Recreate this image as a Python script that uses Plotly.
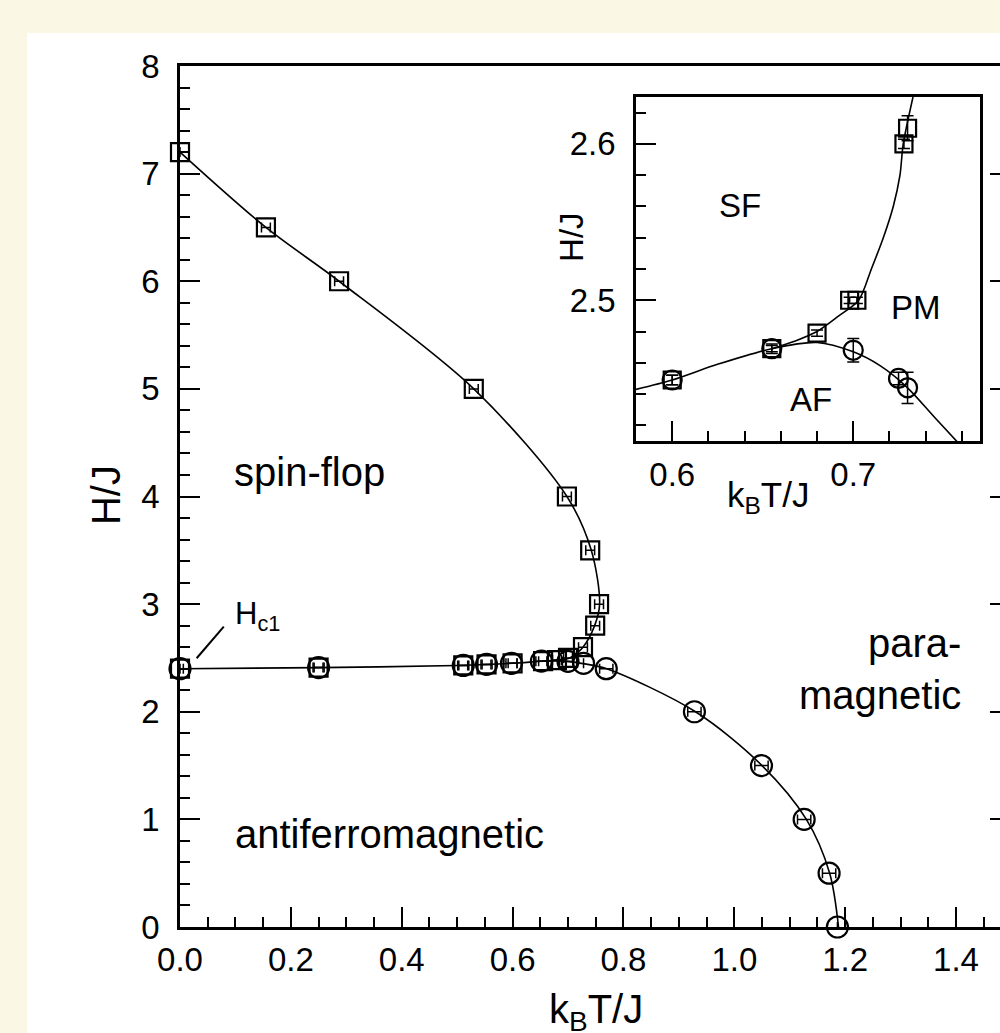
import plotly.graph_objects as go

# ---------------- main panel: measured transition points ----------------
sf_T = [0.0, 0.155, 0.287, 0.530, 0.698, 0.740, 0.756, 0.749, 0.727, 0.700, 0.680, 0.655, 0.600, 0.553, 0.511, 0.250, 0.0]
sf_H = [7.2, 6.5, 6.0, 5.0, 4.0, 3.5, 3.0, 2.8, 2.6, 2.5, 2.48, 2.47, 2.45, 2.44, 2.43, 2.41, 2.40]
sf_dT = [0.0, 0.008, 0.008, 0.008, 0.008, 0.008, 0.008, 0.008, 0.008, 0.008, 0.008, 0.008, 0.008, 0.008, 0.008, 0.008, 0.0]

af_T = [0.0, 0.250, 0.511, 0.553, 0.598, 0.652, 0.700, 0.728, 0.769, 0.928, 1.049, 1.126, 1.171, 1.186]
af_H = [2.40, 2.41, 2.43, 2.44, 2.45, 2.47, 2.468, 2.45, 2.40, 2.0, 1.5, 1.0, 0.5, 0.0]
af_dT = [0.006, 0.010, 0.010, 0.010, 0.010, 0.010, 0.010, 0.0, 0.012, 0.012, 0.012, 0.012, 0.012, 0.0]

# boundary curves
sf_curve_T = [0.0, 0.155, 0.287, 0.530, 0.698, 0.742, 0.757, 0.748, 0.727, 0.703, 0.680, 0.655]
sf_curve_H = [7.2, 6.5, 6.0, 5.0, 4.0, 3.5, 3.0, 2.8, 2.6, 2.5, 2.48, 2.47]
af_curve_T = [0.0, 0.25, 0.5, 0.6, 0.655, 0.68, 0.70, 0.73, 0.77, 0.93, 1.05, 1.13, 1.172, 1.188]
af_curve_H = [2.40, 2.41, 2.43, 2.45, 2.47, 2.473, 2.468, 2.445, 2.40, 2.0, 1.5, 1.0, 0.5, 0.0]

# ---------------- inset data ----------------
in_sq_T = [0.600, 0.655, 0.680, 0.698, 0.702, 0.728, 0.730]
in_sq_H = [2.449, 2.469, 2.479, 2.500, 2.500, 2.600, 2.610]
in_sq_dH = [0.003, 0.002, 0.002, 0.002, 0.002, 0.003, 0.008]
in_ci_T = [0.600, 0.655, 0.700, 0.725, 0.730]
in_ci_H = [2.449, 2.469, 2.468, 2.450, 2.444]
in_ci_dH = [0.003, 0.003, 0.0075, 0.004, 0.010]

in_sf_curve_T = [0.655, 0.668, 0.680, 0.692, 0.703, 0.710, 0.7166, 0.7221, 0.7258, 0.7276, 0.733]
in_sf_curve_H = [2.469, 2.474, 2.480, 2.490, 2.500, 2.520, 2.540, 2.560, 2.580, 2.600, 2.630]
in_af_curve_T = [0.58, 0.60, 0.625, 0.655, 0.68, 0.70, 0.715, 0.73, 0.745, 0.765]
in_af_curve_H = [2.443, 2.449, 2.459, 2.469, 2.473, 2.467, 2.458, 2.444, 2.425, 2.400]

FONT = "Liberation Sans, Arial, Helvetica, sans-serif"
BLACK = "black"
CREAM = "#FAF8E5"

fig = go.Figure()

# main curves
fig.add_trace(go.Scatter(x=sf_curve_T, y=sf_curve_H, mode="lines",
                         line=dict(color=BLACK, width=1.6, shape="spline", smoothing=0.9),
                         showlegend=False, hoverinfo="skip"))
fig.add_trace(go.Scatter(x=af_curve_T, y=af_curve_H, mode="lines",
                         line=dict(color=BLACK, width=1.6, shape="spline", smoothing=0.9),
                         showlegend=False, hoverinfo="skip"))
# main markers
fig.add_trace(go.Scatter(x=sf_T, y=sf_H, mode="markers", cliponaxis=False,
                         marker=dict(symbol="square-open", size=18, color=BLACK, line=dict(width=2.2, color=BLACK)),
                         error_x=dict(type="data", array=sf_dT, color=BLACK, thickness=1.5, width=5),
                         showlegend=False))
fig.add_trace(go.Scatter(x=af_T, y=af_H, mode="markers", cliponaxis=False,
                         marker=dict(symbol="circle-open", size=21, color=BLACK, line=dict(width=2.2, color=BLACK)),
                         error_x=dict(type="data", array=af_dT, color=BLACK, thickness=1.5, width=5),
                         showlegend=False))
# helper trace for right-side ticks
fig.add_trace(go.Scatter(x=[None], y=[None], xaxis="x", yaxis="y3", showlegend=False, hoverinfo="skip"))

# inset curves & markers
fig.add_trace(go.Scatter(x=in_sf_curve_T, y=in_sf_curve_H, mode="lines", xaxis="x2", yaxis="y2",
                         line=dict(color=BLACK, width=1.6, shape="spline", smoothing=0.8),
                         showlegend=False, hoverinfo="skip"))
fig.add_trace(go.Scatter(x=in_af_curve_T, y=in_af_curve_H, mode="lines", xaxis="x2", yaxis="y2",
                         line=dict(color=BLACK, width=1.6, shape="spline", smoothing=0.8),
                         showlegend=False, hoverinfo="skip"))
fig.add_trace(go.Scatter(x=in_sq_T, y=in_sq_H, mode="markers", xaxis="x2", yaxis="y2",
                         marker=dict(symbol="square-open", size=17, color=BLACK, line=dict(width=2.2, color=BLACK)),
                         error_y=dict(type="data", array=in_sq_dH, color=BLACK, thickness=1.5, width=6),
                         showlegend=False))
fig.add_trace(go.Scatter(x=in_ci_T, y=in_ci_H, mode="markers", xaxis="x2", yaxis="y2",
                         marker=dict(symbol="circle-open", size=19, color=BLACK, line=dict(width=2.2, color=BLACK)),
                         error_y=dict(type="data", array=in_ci_dH, color=BLACK, thickness=1.5, width=6),
                         showlegend=False))

tickfont = dict(family=FONT, size=33, color=BLACK)
common = dict(ticks="inside", ticklen=20, tickwidth=2, tickcolor=BLACK,
              showline=True, linewidth=2.5, linecolor=BLACK, showgrid=False,
              zeroline=False, tickfont=tickfont, automargin=False)

fig.update_layout(
    width=1000, height=1033,
    margin=dict(l=180, r=0, t=66, b=106, pad=0),
    paper_bgcolor=CREAM, plot_bgcolor="white",
    font=dict(family=FONT, color=BLACK),
    xaxis=dict(domain=[0, 1], range=[0, 1.4793], tickmode="linear", tick0=0, dtick=0.2,
               tickformat=".1f", mirror=True, ticklabelstandoff=2,
               minor=dict(dtick=0.05, ticks="inside", ticklen=10, tickwidth=2, tickcolor=BLACK, showgrid=False),
               **common),
    yaxis=dict(domain=[0, 1], range=[0, 8], tickmode="linear", tick0=0, dtick=1,
               mirror=False, ticklabelstandoff=11,
               minor=dict(dtick=0.2, ticks="inside", ticklen=10, tickwidth=2, tickcolor=BLACK, showgrid=False),
               **common),
    yaxis3=dict(overlaying="y", side="right", anchor="x", range=[0, 8], tickmode="linear", tick0=0, dtick=1,
                ticks="inside", ticklen=10, tickwidth=2, tickcolor=BLACK, showticklabels=False,
                showline=False, showgrid=False, zeroline=False),
    xaxis2=dict(domain=[0.5561, 0.9756], anchor="y2", range=[0.58, 0.77], tickmode="linear", tick0=0.6, dtick=0.1,
                tickformat=".1f", mirror=True, ticklabelstandoff=3,
                minor=dict(dtick=0.02, ticks="inside", ticklen=10, tickwidth=2, tickcolor=BLACK, showgrid=False),
                **common),
    yaxis2=dict(domain=[0.5645, 0.9640], anchor="x2", range=[2.41, 2.63], tickmode="linear", tick0=2.5, dtick=0.1,
                tickformat=".1f", mirror=True, ticklabelstandoff=11,
                minor=dict(dtick=0.02, ticks="inside", ticklen=10, tickwidth=2, tickcolor=BLACK, showgrid=False),
                **common),
)

# white panel on cream page
fig.add_shape(type="rect", xref="paper", yref="paper", x0=-0.1866, x1=1.05, y0=-0.14, y1=1.0383,
              fillcolor="white", line=dict(width=0), layer="below")
# H_c1 leader line
fig.add_shape(type="line", xref="x", yref="y", x0=0.030, y0=2.497, x1=0.079, y1=2.791,
              line=dict(color=BLACK, width=2))

big = dict(family=FONT, size=40, color=BLACK)
mid = dict(family=FONT, size=33, color=BLACK)
ann = [
    dict(text="spin-flop", x=0.0938, y=4.23, xref="x", yref="y", xanchor="left", yanchor="middle", font=big),
    dict(text="antiferromagnetic", x=0.0956, y=0.86, xref="x", yref="y", xanchor="left", yanchor="middle", font=big),
    dict(text="para-<br>magnetic", x=1.4126, y=2.40, xref="x", yref="y", xanchor="right", yanchor="middle",
         align="right", font=big),
    dict(text="H<sub>c1</sub>", x=0.0956, y=2.89, xref="x", yref="y", xanchor="left", yanchor="middle",
         font=dict(family=FONT, size=31, color=BLACK)),
    dict(text="H/J", x=-0.0902, y=0.5017, xref="paper", yref="paper", xanchor="center", yanchor="middle",
         textangle=-90, font=big),
    dict(text="k<sub>B</sub>T/J", x=0.5073, y=-0.0987, xref="paper", yref="paper", xanchor="center",
         yanchor="middle", font=big),
    dict(text="SF", x=0.6374, y=2.5604, xref="x2", yref="y2", xanchor="center", yanchor="middle", font=mid),
    dict(text="PM", x=0.7346, y=2.4951, xref="x2", yref="y2", xanchor="center", yanchor="middle", font=mid),
    dict(text="AF", x=0.6764, y=2.4367, xref="x2", yref="y2", xanchor="center", yanchor="middle", font=mid),
    dict(text="H/J", x=0.478, y=0.8014, xref="paper", yref="paper", xanchor="center", yanchor="middle",
         textangle=-90, font=mid),
    dict(text="k<sub>B</sub>T/J", x=0.717, y=0.4994, xref="paper", yref="paper", xanchor="center",
         yanchor="middle", font=dict(family=FONT, size=35, color=BLACK)),
]
for a in ann:
    a["showarrow"] = False
    fig.add_annotation(**a)

fig.write_html("out.html")
